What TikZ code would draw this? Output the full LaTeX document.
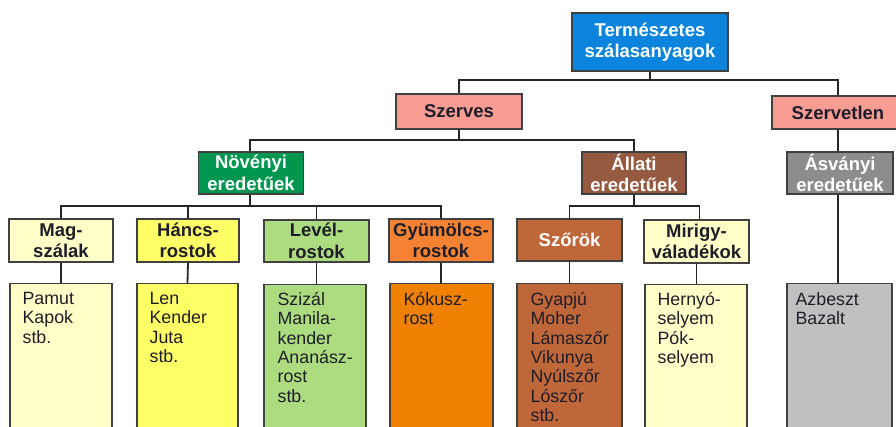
\documentclass[tikz,border=0pt]{standalone}
\usepackage{fontspec}
\setmainfont{Liberation Sans}
\definecolor{cblue}{HTML}{0A84DC}
\definecolor{cpink}{HTML}{F89C94}
\definecolor{cgreen}{HTML}{009650}
\definecolor{cbrown}{HTML}{955A40}
\definecolor{cgray}{HTML}{8C8C8C}
\definecolor{clyel}{HTML}{FFFFC8}
\definecolor{cyel}{HTML}{FFFF66}
\definecolor{clgreen}{HTML}{ADDC80}
\definecolor{corange}{HTML}{F58232}
\definecolor{corange2}{HTML}{F08000}
\definecolor{crust}{HTML}{C0673A}
\definecolor{clgray}{HTML}{C0C0C0}
\definecolor{ctext}{HTML}{1E1E2A}
\definecolor{cedge}{HTML}{404040}
\tikzset{
  hbox/.style={draw=cedge, line width=1.2pt, rectangle, inner sep=0pt, align=center,
    font=\fontsize{18.5}{21.5}\selectfont\bfseries, text=ctext},
  wtext/.style={text=white},
  lbox/.style={draw=cedge, line width=1.2pt, rectangle, inner sep=0pt},
  ltext/.style={anchor=north west, inner sep=0pt, align=left,
    font=\fontsize{17.8}{19.4}\selectfont, text=ctext},
  conn/.style={draw=black!85, line width=1.8pt},
}
\begin{document}
\begin{tikzpicture}[x=1pt,y=-1pt]
\useasboundingbox (0,0) rectangle (896,426);
\clip (0,0) rectangle (896,426);
\coordinate (j1) at (650,80);
\coordinate (j2) at (459,140);
\coordinate (j3) at (250,206);
\coordinate (j4) at (634,206);
% header boxes
\node[hbox, wtext, fill=cblue, minimum width=156pt, minimum height=58pt] (top) at (650,42) {Természetes\\szálasanyagok};
\node[hbox, fill=cpink, minimum width=126pt, minimum height=35pt] (szerves) at (459,111.5) {Szerves};
\node[hbox, fill=cpink, minimum width=132pt, minimum height=33pt] (szervetlen) at (838,112.5) {Szervetlen};
\node[hbox, wtext, fill=cgreen, minimum width=105pt, minimum height=42pt] (novenyi) at (251,173) {Növényi\\eredetűek};
\node[hbox, wtext, fill=cbrown, minimum width=104pt, minimum height=42pt] (allati) at (634,173) {Állati\\eredetűek};
\node[hbox, wtext, fill=cgray, minimum width=106pt, minimum height=42pt] (asvanyi) at (840,173) {Ásványi\\eredetűek};
\node[hbox, fill=clyel, minimum width=104pt, minimum height=43pt] (mag) at (61,240.5) {Mag-\\szálak};
\node[hbox, fill=cyel, minimum width=102pt, minimum height=43pt] (hancs) at (188,240.5) {Háncs-\\rostok};
\node[hbox, fill=clgreen, minimum width=105pt, minimum height=42pt] (level) at (316.5,241) {Levél-\\rostok};
\node[hbox, fill=corange, minimum width=104pt, minimum height=43pt] (gyum) at (441,240.5) {Gyümölcs-\\rostok};
\node[hbox, wtext, fill=crust, minimum width=105pt, minimum height=42pt] (szorok) at (569.5,240) {Szőrök};
\node[hbox, fill=clyel, minimum width=105pt, minimum height=43pt] (mirigy) at (696.5,241.5) {Mirigy-\\váladékok};
% bottom boxes
\node[lbox, fill=clyel, minimum width=102pt, minimum height=160pt, anchor=north] (pamut) at (61,283) {};
\node[lbox, fill=cyel, minimum width=101pt, minimum height=160pt, anchor=north] (len) at (187.5,283) {};
\node[lbox, fill=clgreen, minimum width=102pt, minimum height=160pt, anchor=north] (szizal) at (315,284) {};
\node[lbox, fill=corange2, minimum width=103pt, minimum height=160pt, anchor=north] (kokusz) at (441.5,283) {};
\node[lbox, fill=crust, minimum width=105pt, minimum height=160pt, anchor=north] (gyapju) at (569.5,283) {};
\node[lbox, fill=clyel, minimum width=102pt, minimum height=160pt, anchor=north] (hernyo) at (696,284) {};
\node[lbox, fill=clgray, minimum width=105pt, minimum height=160pt, anchor=north] (azbeszt) at (839.5,283) {};
% bottom texts
\node[ltext] (tpamut) at ([xshift=13pt,yshift=-9pt]pamut.north west) {Pamut\\Kapok\\stb.};
\node[ltext] (tlen) at ([xshift=13pt,yshift=-9pt]len.north west) {Len\\Kender\\Juta\\stb.};
\node[ltext] (tszizal) at ([xshift=14pt,yshift=-8pt]szizal.north west) {Szizál\\Manila-\\kender\\Ananász-\\rost\\stb.};
\node[ltext] (tkokusz) at ([xshift=14pt,yshift=-9pt]kokusz.north west) {Kókusz-\\rost};
\node[ltext] (tgyapju) at ([xshift=14pt,yshift=-9pt]gyapju.north west) {Gyapjú\\Moher\\Lámaszőr\\Vikunya\\Nyúlszőr\\Lószőr\\stb.};
\node[ltext] (thernyo) at ([xshift=13pt,yshift=-8pt]hernyo.north west) {Hernyó-\\selyem\\Pók-\\selyem};
\node[ltext] (tazbeszt) at ([xshift=9pt,yshift=-9pt]azbeszt.north west) {Azbeszt\\Bazalt};
% connectors
\path[conn] (top.south) -- (j1);
\path[conn] (szerves.north) |- (j1) -| (szervetlen.north);
\path[conn] (szerves.south) -- (j2);
\path[conn] (novenyi.north -| j3) |- (j2) -| (allati.north);
\path[conn] (novenyi.south -| j3) -- (j3);
\path[conn] (mag.north) |- (j3) -| (gyum.north);
\path[conn] (hancs.north) -- (hancs.north |- j3);
\path[conn] (level.north) -- (level.north |- j3);
\path[conn] (allati.south) -- (j4);
\path[conn] (szorok.north) |- (j4) -| ([xshift=3pt]mirigy.north);
\path[conn] (szervetlen.south) -- (asvanyi.north -| szervetlen.south);
\path[conn] (asvanyi.south -| szervetlen.south) -- (azbeszt.north -| szervetlen.south);
\path[conn] (mag.south) -- (pamut.north);
\path[conn] (hancs.south) -- (len.north);
\path[conn] (level.south) -- (level.south |- szizal.north);
\path[conn] (gyum.south) -- (gyum.south |- kokusz.north);
\path[conn] (szorok.south) -- (szorok.south |- gyapju.north);
\path[conn] (mirigy.south) -- (mirigy.south |- hernyo.north);
\end{tikzpicture}
\end{document}
